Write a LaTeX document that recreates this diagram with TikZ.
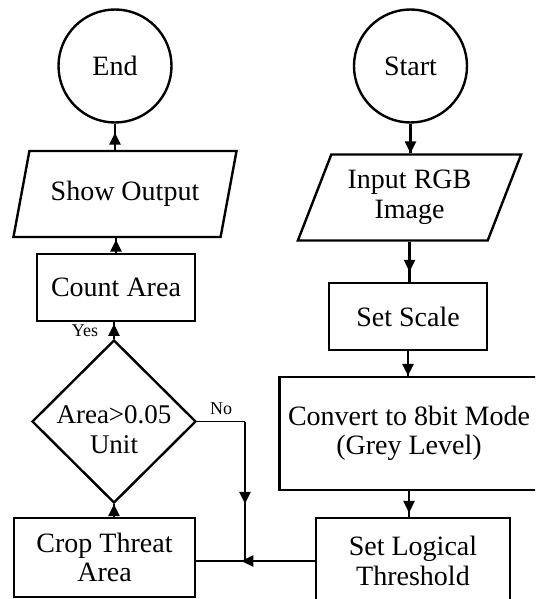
\documentclass[tikz,border=0pt]{standalone}
\usepackage{fontspec}
\setmainfont{Liberation Serif}
\usetikzlibrary{shapes.geometric,arrows.meta,decorations.markings}

\tikzset{
  base/.style={draw,line width=1.2pt,align=center,inner sep=0pt,
    font=\fontsize{14}{14.8}\selectfont},
  termc/.style={base,circle,minimum size=56.5pt},
  iobox/.style={base,trapezium,trapezium left angle=64,trapezium right angle=116,
    trapezium stretches=true,minimum width=112pt,minimum height=43pt},
  procbox/.style={base,rectangle},
  decbox/.style={base,diamond,minimum width=82pt,minimum height=81.5pt},
  lbl/.style={font=\fontsize{9}{10}\selectfont},
  arr/.style={line width=1.2pt,postaction={decorate},
    decoration={markings,mark=at position #1 with {\arrow{Triangle[length=6pt,width=5.5pt]}}}},
  arr/.default=1
}

\begin{document}
\begin{tikzpicture}[x=0.5pt,y=-0.5pt]
  \useasboundingbox (0,0) rectangle (535,599);
  \clip (0,0) rectangle (535,599);
  % right column
  \node[termc] (begc) at (410.5,66) {Start};
  \node[iobox] (rgbin) at (409.5,197.5) {Input RGB\\Image};
  \node[procbox,minimum width=79pt,minimum height=33.5pt] (scale) at (408,316.5) {Set Scale};
  \node[procbox,minimum width=129.5pt,minimum height=56.5pt] (conv) at (409,433.5) {Convert to 8bit Mode\\(Grey Level)};
  \node[procbox,minimum width=97pt,minimum height=43pt] (logic) at (413,561) {Set Logical\\Threshold};
  % left column
  \node[procbox,minimum width=90.5pt,minimum height=39.5pt] (crop) at (104.5,557.5) {Crop Threat\\Area};
  \node[decbox,label={[align=center,yshift=-4pt,font=\fontsize{13.5}{15}\selectfont]center:{Area>0.05\\Unit}}] (dec) at (114,421.5) {};
  \node[procbox,minimum width=79pt,minimum height=33.5pt] (count) at (116,287.5) {Count Area};
  \node[iobox] (show) at (125,194) {Show Output};
  \node[termc] (endc) at (115,66) {End};
  \coordinate (join) at (245,561);

  \draw[arr] (begc.south) -- (begc.south |- rgbin.north);
  \draw[arr=0.75] (rgbin.south) -- (rgbin.south |- scale.north);
  \draw[arr] (scale.south) -- (scale.south |- conv.north);
  \draw[arr=0.85] (conv.south) -- (conv.south |- logic.north);
  \draw[arr=0.62] (logic.west) -- (logic.west -| crop.east);
  \draw[arr] (crop.north -| dec) -- (dec.south);
  \draw (dec.east) -- node[lbl,above]{No} (dec.east -| join);
  \draw[arr=0.59] (dec.east -| join) -- (join);
  \draw[arr=0.9] (dec.north) -- node[lbl,left,xshift=-4pt]{Yes} (dec.north |- count.south);
  \draw[arr=0.9] (count.north) -- (count.north |- show.south);
  \draw[arr=0.66] (show.north -| endc) -- (endc.south);
\end{tikzpicture}
\end{document}
